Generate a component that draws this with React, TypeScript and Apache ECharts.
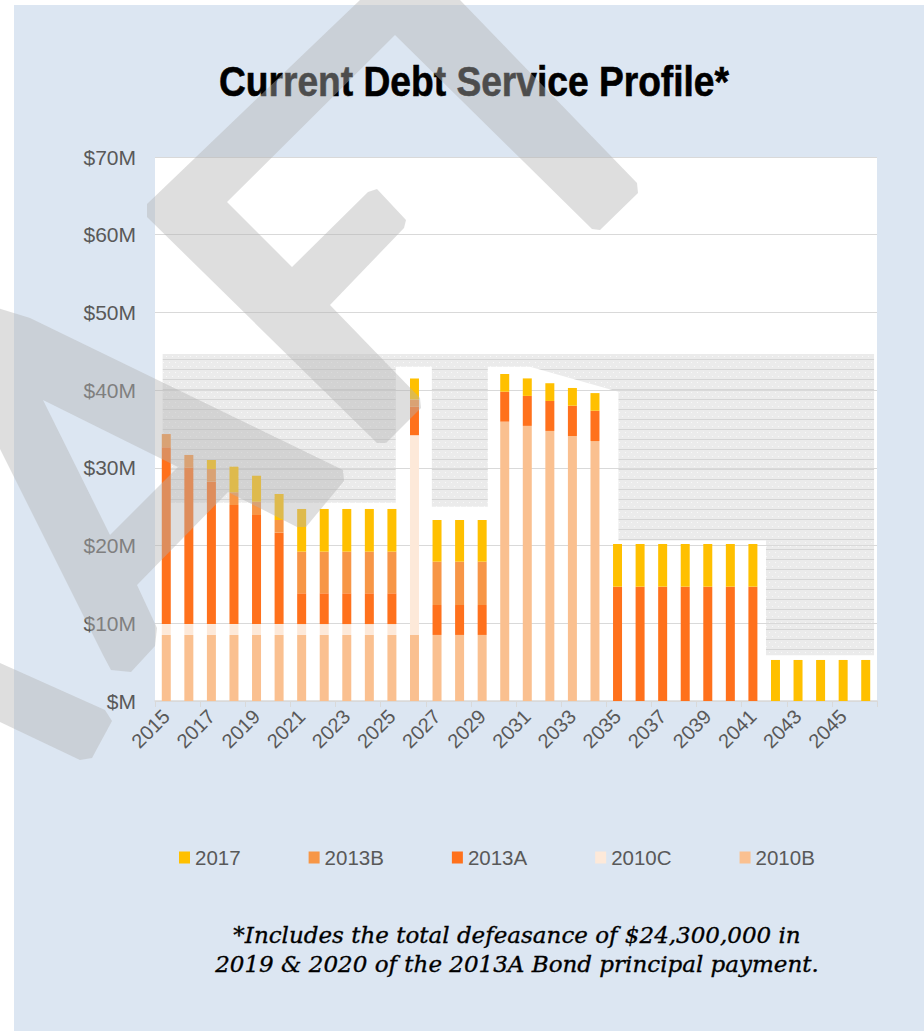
import React, { useEffect, useRef } from 'react';
import * as echarts from 'echarts';

const YEARS = ['2015','2016','2017','2018','2019','2020','2021','2022','2023','2024','2025','2026','2027','2028','2029','2030','2031','2032','2033','2034','2035','2036','2037','2038','2039','2040','2041','2042','2043','2044','2045','2046'];

// $ millions, stacked bottom -> top: 2010B, 2010C, 2013A, 2013B, 2017
const S2010B = [8.5,8.5,8.5,8.5,8.5,8.5,8.5,8.5,8.5,8.5,8.5,8.5,8.5,8.5,8.5,35.95,35.4,34.75,34.1,33.45,0,0,0,0,0,0,0,0,0,0,0,0];
const S2010C = [1.4,1.4,1.4,1.4,1.4,1.4,1.4,1.4,1.4,1.4,1.4,25.7,0,0,0,0,0,0,0,0,0,0,0,0,0,0,0,0,0,0,0,0];
const S2013A = [22.75,20.13,18.32,15.32,14.04,11.76,3.96,3.96,3.96,3.96,3.96,3.65,3.85,3.85,3.85,3.85,3.86,3.86,3.9,3.9,14.71,14.71,14.71,14.71,14.71,14.71,14.71,0,0,0,0,0];
const S2013B = [1.7,1.63,1.63,1.64,1.71,1.63,5.36,5.36,5.36,5.36,5.36,0.95,5.58,5.58,5.58,0,0,0,0,0,0,0,0,0,0,0,0,0,0,0,0,0];
const S2017 = [0,0,1.16,3.29,3.34,3.35,5.49,5.49,5.49,5.49,5.49,2.7,5.36,5.36,5.36,2.28,2.25,2.28,2.28,2.27,5.49,5.49,5.49,5.49,5.49,5.49,5.49,5.28,5.28,5.28,5.28,5.28];

const SERIES_NAMES = ['2010B', '2010C', '2013A', '2013B', '2017'];
const LEGEND_ORDER = ['2017', '2013B', '2013A', '2010C', '2010B'];
const Y_LABELS = ['$M', '$10M', '$20M', '$30M', '$40M', '$50M', '$60M', '$70M'];

// shaded "capacity" outline (year position, $M)
const HATCH_X = [2014.84, 2046.37, 2046.37, 2041.58, 2041.58, 2035.04, 2035.04, 2031.12, 2029.25, 2029.25, 2026.77, 2026.77, 2025.17, 2025.17, 2014.84];
const HATCH_Y = [44.65, 44.65, 5.9, 5.9, 20.65, 20.65, 39.8, 43.0, 43.0, 25.0, 25.0, 43.0, 43.0, 25.5, 25.5];

const COLORS: Record<string, string> = {
  '2010B': '#FAC090',
  '2010C': '#FDE9D9',
  '2013A': '#FF711C',
  '2013B': '#F79646',
  '2017': '#FFC000',
};

const TITLE = 'Current Debt Service Profile*';
const NOTE1 = '*Includes the total defeasance of $24,300,000 in';
const NOTE2 = '2019 & 2020 of the 2013A Bond principal payment.';

const WM_F = 'M147 204 L360 0 L410 -50 L460 0 L637 183 L638 193 L600 230 L592 229 L395 35 L227 202 L292 267 L368 192 L377 189 L406 220 L404 228 L330 305 L420 398 L421 408 L386 443 L377 443 L147 217 Z';
const WM_A = 'M-60 290 L30 318 L343 470 L344 481 L306 527 L297 527 L228 492 L137 585 L157 628 L155 646 L131 672 L111 670 L103 655 L0 449 L-60 330 Z M43 400 L110 535 L178 467 Z';
const WM_R = 'M0 663 L105 710 L112 721 L92 758 L80 760 L0 722 Z';

const HATCH_SVG = "<svg xmlns='http://www.w3.org/2000/svg' width='6' height='10'><rect width='6' height='10' fill='#ebebeb'/><rect y='9' width='6' height='1' fill='#d5d5d5'/><rect x='1' y='2' width='1' height='1' fill='#f9f9f9'/><rect x='4' y='6' width='1' height='1' fill='#f9f9f9'/></svg>";

export default function App() {
  const ref = useRef<HTMLDivElement>(null);
  useEffect(() => {
    if (!ref.current) return;
    echarts.graphic.registerShape('wmF', echarts.graphic.extendPath(WM_F, {}));
    echarts.graphic.registerShape('wmA', echarts.graphic.extendPath(WM_A, {}));
    echarts.graphic.registerShape('wmR', echarts.graphic.extendPath(WM_R, {}));
    const chart = echarts.init(ref.current, null, { renderer: 'svg' });
    const dataSets = [S2010B, S2010C, S2013A, S2013B, S2017];
    const hatchFill: any = {
      image: 'data:image/svg+xml;charset=utf-8,' + encodeURIComponent(HATCH_SVG),
      repeat: 'repeat',
      imageWidth: 6,
      imageHeight: 10,
    };
    const wmStyle = { fill: 'rgba(178,178,178,0.43)' };
    const noteStyle = { font: 'italic 23px "DejaVu Serif", serif', fill: '#000000', stroke: '#000000', lineWidth: 0.35, align: 'center', verticalAlign: 'middle' };
    const barSeries = SERIES_NAMES.map((name, i) => ({
      name,
      type: 'bar',
      stack: 'debt',
      barWidth: 9,
      xAxisIndex: 0,
      yAxisIndex: 0,
      itemStyle: { color: COLORS[name] },
      data: dataSets[i],
      z: 2,
    }));
    chart.setOption({
      animation: false,
      backgroundColor: '#ffffff',
      textStyle: { fontFamily: '"Liberation Sans", Arial, sans-serif' },
      grid: { left: 155, right: 47, top: 157, bottom: 330, containLabel: false },
      xAxis: [
        {
          type: 'category',
          data: YEARS,
          boundaryGap: true,
          axisLine: { lineStyle: { color: '#d9d9d9', width: 1.5 } },
          axisTick: { show: true, interval: 1, length: 6, lineStyle: { color: '#d9d9d9' } },
          axisLabel: { interval: 1, rotate: 45, fontSize: 20, color: '#595959', margin: 12 },
          splitLine: { show: false },
        },
        { type: 'value', min: 2014.5, max: 2046.5, show: false },
      ],
      yAxis: {
        type: 'value',
        min: 0,
        max: 70,
        interval: 10,
        axisLine: { show: false },
        axisTick: { show: false },
        axisLabel: {
          fontSize: 21,
          color: '#595959',
          margin: 19,
          formatter: (v: number) => Y_LABELS[Math.round(v / 10)],
        },
        splitLine: { lineStyle: { color: '#d9d9d9', width: 1 } },
      },
      legend: {
        data: LEGEND_ORDER,
        left: 174,
        top: 842,
        icon: 'rect',
        itemWidth: 11,
        itemHeight: 12,
        itemGap: 68,
        selectedMode: false,
        textStyle: { fontSize: 20.5, color: '#595959' },
      },
      graphic: [
        { type: 'rect', z: -100, silent: true, shape: { x: 14, y: 5, width: 930, height: 1040 }, style: { fill: '#dce6f2' } },
        { type: 'rect', z: -50, silent: true, shape: { x: 155, y: 157, width: 722, height: 544 }, style: { fill: '#ffffff' } },
        {
          type: 'text', z: 5, x: 219, y: 81, scaleX: 0.885, silent: true,
          style: { text: TITLE, font: 'bold 42px "Liberation Sans", Arial, sans-serif', fill: '#000000', stroke: '#000000', lineWidth: 0.6, align: 'left', verticalAlign: 'middle' },
        },
        { type: 'text', z: 5, x: 517, y: 935, silent: true, style: { ...noteStyle, text: NOTE1 } },
        { type: 'text', z: 5, x: 517, y: 963.5, silent: true, style: { ...noteStyle, text: NOTE2 } },
        { type: 'wmF', z: 100, silent: true, style: wmStyle },
        { type: 'wmA', z: 100, silent: true, style: wmStyle },
        { type: 'wmR', z: 100, silent: true, style: wmStyle },
      ],
      series: [
        {
          type: 'custom',
          xAxisIndex: 1,
          yAxisIndex: 0,
          z: -10,
          silent: true,
          clip: false,
          data: [[2030, 0]],
          renderItem: (_params: any, api: any) => {
            const pts = HATCH_X.map((x, i) => api.coord([x, HATCH_Y[i]]));
            return { type: 'polygon', shape: { points: pts }, style: { fill: hatchFill } };
          },
        },
        ...barSeries,
      ],
    });
    return () => chart.dispose();
  }, []);
  return <div ref={ref} style={{ position: 'absolute', left: 0, top: 0, width: 924, height: 1031 }} />;
}
